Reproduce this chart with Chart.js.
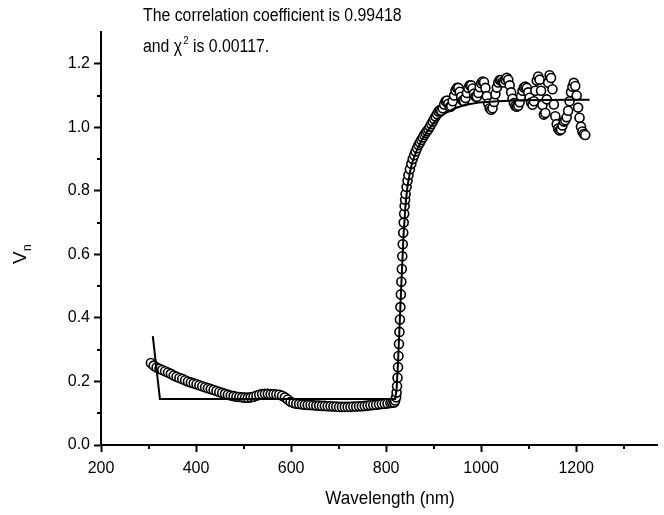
<!DOCTYPE html>
<html>
<head>
<meta charset="utf-8">
<script src="https://cdn.jsdelivr.net/npm/chart.js@4.4.1/dist/chart.umd.min.js"></script>
<style>
    body { margin: 0; background: #fff; }
</style>
</head>
<body>
<canvas id="chart" width="664" height="515"></canvas>
<script>
// Measured spectrum (wavelength in nm, normalised Vn)
const wavelength = [
    305, 311, 317, 323, 329, 335, 341, 347, 353, 359, 365, 371, 377, 383, 389, 395, 401, 407, 413, 419,
    425, 431, 437, 443, 449, 455, 461, 467, 473, 479, 485, 491, 497, 503, 509, 515, 521, 527, 533, 539,
    545, 551, 557, 563, 569, 575, 581, 587, 593, 599, 605, 611, 617, 623, 629, 635, 641, 647, 653, 659,
    665, 671, 677, 683, 689, 695, 701, 707, 713, 719, 725, 731, 737, 743, 749, 755, 761, 767, 773, 779,
    785, 791, 797, 803, 809, 813,
    817, 819, 821, 822, 823, 824, 825, 826, 827, 828, 829, 830, 831, 832, 833, 834, 835, 836, 837, 838,
    839, 840, 841, 843, 845, 847, 850, 853, 856, 859, 862, 865, 868, 871, 874, 877, 880, 883, 886, 889,
    892, 895, 898, 901, 904, 907, 910, 913, 916, 919, 922, 925, 928, 931, 934, 937, 940, 943, 946, 949,
    952, 955, 958, 961, 964, 967, 970, 973, 976, 979, 982, 985, 988, 991, 994, 997, 1000, 1003, 1006, 1009,
    1012, 1015, 1018, 1021, 1024, 1027, 1030, 1033, 1036, 1039, 1042, 1045, 1048, 1051, 1054, 1057, 1060, 1063, 1066, 1069,
    1072, 1075, 1078, 1081, 1084, 1087, 1090, 1093, 1096, 1099, 1102, 1105, 1108, 1111, 1114, 1117, 1120, 1123, 1126, 1129,
    1132, 1135, 1138, 1141, 1144, 1147, 1150, 1153, 1156, 1159, 1162, 1165, 1168, 1171, 1174, 1177, 1180, 1183, 1186, 1189,
    1192, 1195, 1198, 1201, 1204, 1207, 1210, 1213, 1216, 1219
];
const vn = [
    0.258, 0.250, 0.244, 0.240, 0.236, 0.232, 0.228, 0.224, 0.219, 0.215, 0.211, 0.208, 0.204, 0.200, 0.197, 0.194, 0.191, 0.188, 0.185, 0.182,
    0.179, 0.176, 0.173, 0.170, 0.167, 0.164, 0.161, 0.158, 0.156, 0.154, 0.152, 0.151, 0.150, 0.149, 0.149, 0.150, 0.152, 0.155, 0.158, 0.160,
    0.161, 0.161, 0.160, 0.160, 0.159, 0.158, 0.155, 0.150, 0.143, 0.136, 0.132, 0.130, 0.129, 0.128, 0.127, 0.126, 0.126, 0.125, 0.124, 0.124,
    0.123, 0.123, 0.122, 0.122, 0.121, 0.121, 0.120, 0.120, 0.120, 0.120, 0.120, 0.121, 0.121, 0.122, 0.122, 0.123, 0.124, 0.125, 0.126, 0.127,
    0.128, 0.129, 0.130, 0.131, 0.132, 0.133,
    0.134, 0.140, 0.150, 0.165, 0.185, 0.212, 0.245, 0.280, 0.318, 0.356, 0.395, 0.434, 0.474, 0.514, 0.554, 0.594, 0.632, 0.668, 0.700, 0.728,
    0.752, 0.772, 0.790, 0.812, 0.832, 0.850, 0.868, 0.885, 0.900, 0.912, 0.924, 0.934, 0.944, 0.952, 0.960, 0.968, 0.976, 0.982, 0.988, 0.994,
    1.002, 1.010, 1.018, 1.026, 1.034, 1.042, 1.050, 1.054, 1.052, 1.060, 1.072, 1.082, 1.084, 1.074, 1.064, 1.066, 1.082, 1.100, 1.116, 1.124,
    1.124, 1.112, 1.096, 1.084, 1.082, 1.092, 1.108, 1.124, 1.132, 1.132, 1.122, 1.106, 1.097, 1.096, 1.108, 1.126, 1.139, 1.144, 1.142, 1.124,
    1.098, 1.075, 1.060, 1.055, 1.060, 1.080, 1.104, 1.125, 1.141, 1.149, 1.149, 1.143, 1.141, 1.150, 1.156, 1.150, 1.132, 1.110, 1.090, 1.076,
    1.067, 1.065, 1.068, 1.079, 1.098, 1.115, 1.125, 1.128, 1.124, 1.110, 1.093, 1.078, 1.071, 1.082, 1.115, 1.147, 1.160, 1.150, 1.115, 1.070,
    1.040, 1.045, 1.088, 1.140, 1.164, 1.155, 1.120, 1.072, 1.035, 1.010, 0.996, 0.990, 0.993, 1.006, 1.018, 1.022, 1.032, 1.052, 1.082, 1.110,
    1.128, 1.140, 1.130, 1.100, 1.062, 1.030, 1.002, 0.987, 0.979, 0.976
];

// Fitted curve
const fitWavelength = [309, 324, 819, 822, 825, 829, 833, 837, 841, 845, 850, 855, 865, 875, 890, 905, 925, 945, 965, 995, 1035, 1085, 1135, 1185, 1228];
const fitVn = [0.343, 0.145, 0.145, 0.175, 0.260, 0.400, 0.540, 0.670, 0.760, 0.815, 0.858, 0.890, 0.930, 0.960, 0.995, 1.022, 1.045, 1.060, 1.070, 1.078, 1.082, 1.085, 1.086, 1.087, 1.087];

// Axis ticks
const xLabels = [200, 400, 600, 800, 1000, 1200];
const xMinor = [300, 500, 700, 900, 1100, 1300];
const yLabels = [0, 0.2, 0.4, 0.6, 0.8, 1.0, 1.2];
const yMinor = [0.1, 0.3, 0.5, 0.7, 0.9, 1.1];

const noteLine1 = 'The correlation coefficient is 0.99418';
const noteLine2a = 'and \u03C7';
const noteSup = '2';
const noteLine2b = ' is 0.00117.';
const xTitle = 'Wavelength (nm)';
const yTitle = 'V';
const yTitleSub = 'n';

const fontFamily = '"Liberation Sans", Arial, Helvetica, sans-serif';
Chart.defaults.font.family = fontFamily;
Chart.defaults.color = '#000';

const isLabel = (list, v) => list.some(t => Math.abs(t - v) < 1e-6);

// text squeezed a little horizontally, like the original figure; returns drawn width
function squeezedText(ctx, text, x, y, size, sx) {
    ctx.save();
    ctx.font = size + 'px ' + fontFamily;
    ctx.translate(x, y);
    ctx.scale(sx, 1);
    ctx.fillText(text, 0, 0);
    const w = ctx.measureText(text).width * sx;
    ctx.restore();
    return w;
}

// Minor ticks, axis titles and the note text
const extras = {
    id: 'extras',
    afterDraw(chart) {
        const ctx = chart.ctx;
        const area = chart.chartArea;
        const xs = chart.scales.x;
        const ys = chart.scales.y;
        ctx.save();
        ctx.strokeStyle = '#000';
        ctx.lineWidth = 2;
        xMinor.forEach(v => {
            const px = Math.round(xs.getPixelForValue(v));
            ctx.beginPath();
            ctx.moveTo(px, area.bottom);
            ctx.lineTo(px, area.bottom + 4);
            ctx.stroke();
        });
        yMinor.forEach(v => {
            const py = Math.round(ys.getPixelForValue(v));
            ctx.beginPath();
            ctx.moveTo(area.left, py);
            ctx.lineTo(area.left - 4, py);
            ctx.stroke();
        });

        ctx.fillStyle = '#000';
        ctx.textBaseline = 'alphabetic';
        ctx.textAlign = 'left';

        // x title
        ctx.font = '19px ' + fontFamily;
        const tw = ctx.measureText(xTitle).width * 0.9;
        squeezedText(ctx, xTitle, 390 - tw / 2, 504, 19, 0.9);

        // y title "Vn", rotated
        ctx.save();
        ctx.translate(20, 258);
        ctx.rotate(-Math.PI / 2);
        ctx.font = '19px ' + fontFamily;
        ctx.fillText(yTitle, -6, 6);
        ctx.font = '12px ' + fontFamily;
        ctx.fillText(yTitleSub, 7, 11);
        ctx.restore();

        // note text
        const nx = 143;
        squeezedText(ctx, noteLine1, nx, 21, 18, 0.88);
        let w = squeezedText(ctx, noteLine2a, nx, 52, 18, 0.88);
        w += squeezedText(ctx, noteSup, nx + w + 1, 44, 11, 0.88) + 1;
        squeezedText(ctx, noteLine2b, nx + w, 52, 18, 0.88);
        ctx.restore();
    }
};

new Chart(document.getElementById('chart'), {
    type: 'scatter',
    data: {
        datasets: [{
            label: 'Fit',
            data: fitWavelength.map((x, i) => ({ x: x, y: fitVn[i] })),
            showLine: true,
            borderColor: '#000',
            borderWidth: 2,
            pointRadius: 0,
            tension: 0
        }, {
            label: 'Data',
            data: wavelength.map((x, i) => ({ x: x, y: vn[i] })),
            pointStyle: 'circle',
            pointRadius: 4.5,
            pointBorderWidth: 1.6,
            pointBorderColor: '#000',
            pointBackgroundColor: '#fff'
        }]
    },
    options: {
        responsive: false,
        animation: false,
        devicePixelRatio: 1,
        events: [],
        layout: { padding: { top: 32, left: 0, right: 0, bottom: 0 } },
        plugins: {
            legend: { display: false },
            tooltip: { enabled: false }
        },
        scales: {
            x: {
                type: 'linear',
                min: 200,
                max: 1370,
                afterFit(scale) { scale.height = 70; },
                border: { display: true, color: '#000', width: 2 },
                grid: {
                    drawOnChartArea: false,
                    tickLength: 7,
                    tickWidth: 2,
                    tickColor: c => isLabel(xLabels, c.tick.value) ? '#000' : 'rgba(0,0,0,0)'
                },
                ticks: {
                    stepSize: 100,
                    autoSkip: false,
                    maxRotation: 0,
                    padding: 7,
                    font: { size: 16 },
                    callback: v => isLabel(xLabels, v) ? String(v) : ''
                }
            },
            y: {
                min: 0,
                max: 1.3,
                afterFit(scale) { scale.width = 101; },
                border: { display: true, color: '#000', width: 2 },
                grid: {
                    drawOnChartArea: false,
                    tickLength: 7,
                    tickWidth: 2,
                    tickColor: c => isLabel(yLabels, c.tick.value) ? '#000' : 'rgba(0,0,0,0)'
                },
                ticks: {
                    stepSize: 0.1,
                    autoSkip: false,
                    padding: 4,
                    font: { size: 16 },
                    callback: v => isLabel(yLabels, v) ? v.toFixed(1) : ''
                }
            }
        }
    },
    plugins: [extras]
});
</script>
</body>
</html>
